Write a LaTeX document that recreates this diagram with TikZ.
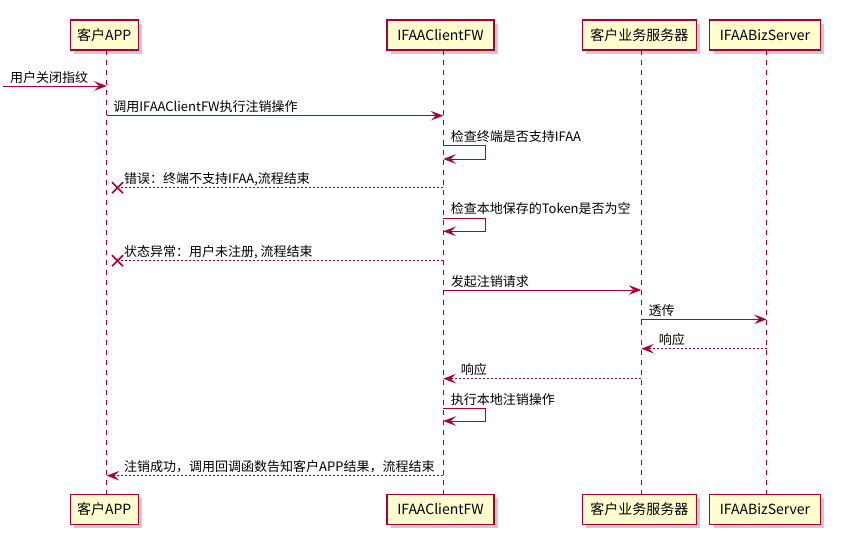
\documentclass[tikz,border=0pt]{standalone}
\usepackage{fontspec}
\setmainfont{Noto Sans CJK SC}
\usepackage[dvipsnames]{xcolor}
\usetikzlibrary{calc,arrows.meta,shadows,positioning}
\definecolor{umlred}{HTML}{A80036}
\definecolor{umlfill}{HTML}{FEFECE}

\begin{document}
\begin{tikzpicture}[
    x=1pt, y=-1pt,
    party/.style={rectangle,draw=umlred,fill=umlfill,line width=1.2pt,
                  minimum height=30pt,inner sep=0pt,
                  font=\fontsize{14pt}{16pt}\selectfont,
                  drop shadow={shadow xshift=4pt,shadow yshift=-4pt,
                               fill=black!40,opacity=0.5}},
    life/.style={draw=umlred,line width=0.8pt,dash pattern=on 5pt off 5pt},
    msg/.style={draw=umlred,line width=1pt,
                -{Stealth[length=12.5pt,width=9.5pt,inset=5pt]}},
    reply/.style={msg,dash pattern=on 2pt off 2pt},
    lost/.style={draw=umlred,line width=1pt,dash pattern=on 2pt off 2pt},
    cross/.style={draw=umlred,line width=1.5pt},
    lbl/.style={anchor=base west,inner sep=0pt,
                font=\fontsize{13pt}{15pt}\selectfont}
]

    \useasboundingbox (0,0) rectangle (841,546);

    % participants
    \node[party,minimum width=68pt]    (appT) at (104.2,35) {客户APP};
    \node[party,minimum width=107pt]   (fwT)  at (440.5,35) {IFAAClientFW};
    \node[party,minimum width=114pt]   (srvT) at (639.3,35) {客户业务服务器};
    \node[party,minimum width=110.6pt] (bizT) at (765,35)   {IFAABizServer};

    \node[party,minimum width=68pt]    (appB) at (104.2,509.2) {客户APP};
    \node[party,minimum width=107pt]   (fwB)  at (440.5,509.2) {IFAAClientFW};
    \node[party,minimum width=114pt]   (srvB) at (639.3,509.2) {客户业务服务器};
    \node[party,minimum width=110.6pt] (bizB) at (765,509.2)   {IFAABizServer};

    % lifelines
    \coordinate (app) at (106.7,50);
    \coordinate (fw)  at (443.3,50);
    \coordinate (srv) at (641.3,50);
    \coordinate (biz) at (766.7,50);
    \draw[life] (app) -- (app |- appB.north);
    \draw[life] (fw)  -- (fw |- fwB.north);
    \draw[life] (srv) -- (srv |- srvB.north);
    \draw[life] (biz) -- (biz |- bizB.north);

    \foreach \n/\y in {1/86,2/115.7,3/145.7,4/187.7,5/218.3,6/260.7,
                       7/290,8/319.3,9/348.7,10/378.7,11/408.3,12/475.7}
        \coordinate (m\n) at (0,\y);

    % messages
    \coordinate (user) at (3,86);
    \draw[msg] (user) -- (app |- m1);
    \node[lbl] (l1) at ($(user |- m1)+(7,-4)$) {用户关闭指纹};

    \draw[msg] (app |- m2) -- (fw |- m2);
    \node[lbl] (l2) at ($(app |- m2)+(6.5,-4)$) {调用IFAAClientFW执行注销操作};

    \draw[msg] (fw |- m3) -- ++(42.4,0) -- ++(0,13.3) -- ++(-42.4,0);
    \node[lbl] (l3) at ($(fw |- m3)+(7.4,-4.5)$) {检查终端是否支持IFAA};

    \coordinate (x1) at (117.5,187.7);
    \draw[lost] (fw |- m4) -- (x1);
    \draw[cross] ($(x1)+(-5.5,-5.5)$) -- ($(x1)+(5.5,5.5)$)
                 ($(x1)+(-5.5,5.5)$) -- ($(x1)+(5.5,-5.5)$);
    \node[lbl] (l4) at ($(app |- m4)+(17.3,-4)$) {错误：终端不支持IFAA,流程结束};

    \draw[msg] (fw |- m5) -- ++(42.4,0) -- ++(0,13) -- ++(-42.4,0);
    \node[lbl] (l5) at ($(fw |- m5)+(7.4,-4.5)$) {检查本地保存的Token是否为空};

    \coordinate (x2) at (117.5,260.7);
    \draw[lost] (fw |- m6) -- (x2);
    \draw[cross] ($(x2)+(-5.5,-5.5)$) -- ($(x2)+(5.5,5.5)$)
                 ($(x2)+(-5.5,5.5)$) -- ($(x2)+(5.5,-5.5)$);
    \node[lbl] (l6) at ($(app |- m6)+(17.3,-4.5)$) {状态异常：用户未注册, 流程结束};

    \draw[msg] (fw |- m7) -- (srv |- m7);
    \node[lbl] (l7) at ($(fw |- m7)+(7.4,-4)$) {发起注销请求};

    \draw[msg] (srv |- m8) -- (biz |- m8);
    \node[lbl] (l8) at ($(srv |- m8)+(7,-4)$) {透传};

    \draw[reply] (biz |- m9) -- (srv |- m9);
    \node[lbl] (l9) at ($(srv |- m9)+(17.4,-4)$) {响应};

    \draw[reply] (srv |- m10) -- (fw |- m10);
    \node[lbl] (l10) at ($(fw |- m10)+(17.4,-4)$) {响应};

    \draw[msg] (fw |- m11) -- ++(42.4,0) -- ++(0,12.7) -- ++(-42.4,0);
    \node[lbl] (l11) at ($(fw |- m11)+(7.4,-4)$) {执行本地注销操作};

    \draw[reply] (fw |- m12) -- (app |- m12);
    \node[lbl] (l12) at ($(app |- m12)+(17.3,-4)$) {注销成功，调用回调函数告知客户APP结果，流程结束};

\end{tikzpicture}
\end{document}
